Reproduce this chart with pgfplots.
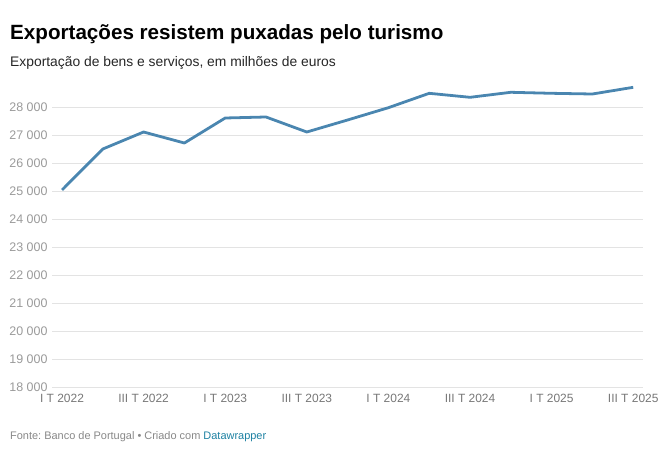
\documentclass[border=0pt]{standalone}
\usepackage{pgfplots}
\pgfplotsset{compat=1.18}
\usepackage{fontspec}
\setmainfont{Liberation Sans}
\frenchspacing
\definecolor{linecol}{HTML}{4A86B0}
\definecolor{gridcol}{HTML}{E3E3E3}
\definecolor{ticky}{HTML}{9A9A9A}
\definecolor{tickx}{HTML}{777777}
\definecolor{footcol}{HTML}{888888}
\definecolor{dwblue}{HTML}{1D81A2}
\begin{document}
\begin{tikzpicture}
\path[use as bounding box] (0,0) rectangle (666bp,452bp);
\begin{axis}[
  at={(52bp,65bp)}, anchor=south west,
  scale only axis,
  width=591bp, height=302.4bp,
  xmin=-0.245, xmax=14.24,
  ymin=18000, ymax=28800,
  axis line style={draw=none},
  tick style={draw=none},
  ytick={18000,19000,...,28000},
  scaled y ticks=false,
  ymajorgrids=true,
  grid style={gridcol, line width=0.8pt},
  xtick={0,2,...,14},
  xticklabels={I T 2022, III T 2022, I T 2023, III T 2023, I T 2024, III T 2024, I T 2025, III T 2025},
  /pgf/number format/assume math mode=true,
  /pgf/number format/fixed,
  /pgf/number format/1000 sep={\ },
  yticklabel style={font=\fontsize{12.5}{14}\selectfont, text=ticky, xshift=-1bp},
  xticklabel style={font=\fontsize{12}{14}\selectfont, text=tickx, yshift=-4bp},
  clip=false,
]
\addplot[linecol, line width=2.8pt, line join=round] coordinates {
  (0,25036) (1,26500) (2,27107) (3,26714) (4,27607) (5,27643) (6,27107)
  (7,27536) (8,27975) (9,28489) (10,28346) (11,28525) (12,28489) (13,28464) (14,28703)
};
\end{axis}
\node[anchor=base west, inner sep=0pt, font=\fontsize{20.7}{24}\selectfont\bfseries] at (10bp,412bp) {Exportações resistem puxadas pelo turismo};
\node[anchor=base west, inner sep=0pt, font=\fontsize{13.9}{16}\selectfont, text=black!85] at (10bp,385bp) {Exportação de bens e serviços, em milhões de euros};
\node[anchor=base west, inner sep=0pt, font=\fontsize{11}{13}\selectfont, text=footcol] at (10bp,13bp) {Fonte: Banco de Portugal • Criado com \textcolor{dwblue}{Datawrapper}};
\end{tikzpicture}
\end{document}
